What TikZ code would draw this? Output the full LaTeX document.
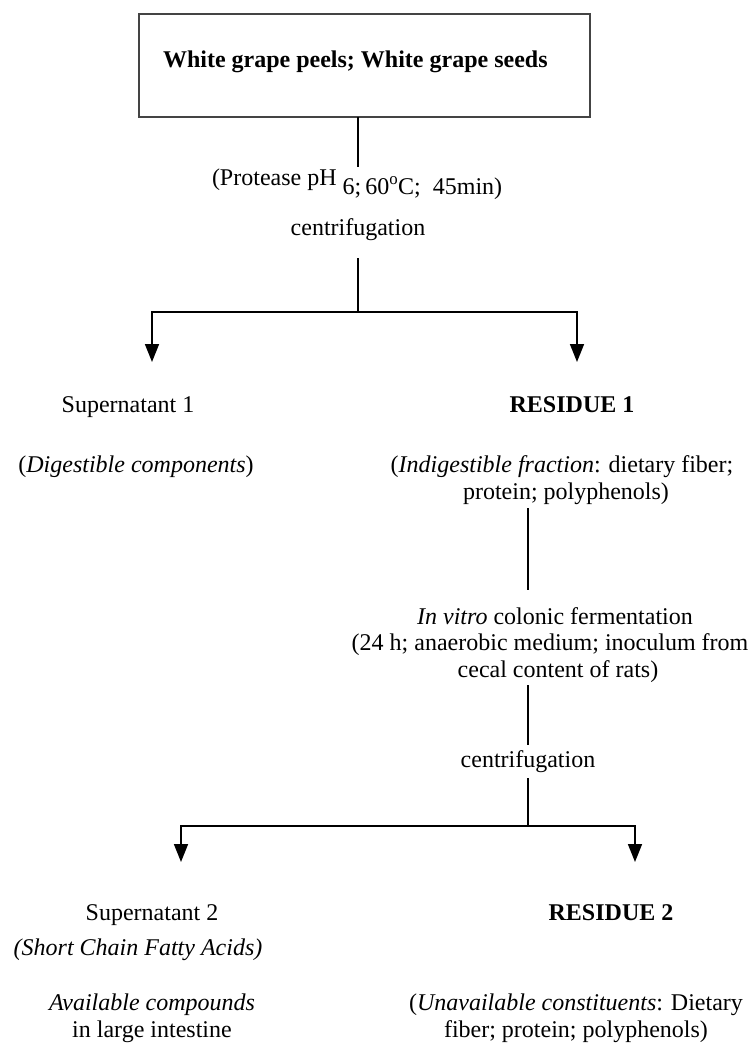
\documentclass[tikz,border=0pt]{standalone}
\usepackage{fontspec}
\setmainfont{Liberation Serif}
\usetikzlibrary{arrows.meta}
\definecolor{boxgray}{HTML}{444444}
\begin{document}
\begin{tikzpicture}[x=1pt,y=-1pt,
  every node/.style={inner sep=0pt,outer sep=0pt,font=\fontsize{24}{26.5}\selectfont},
  txt/.style={anchor=base,align=center},
  ln/.style={line width=1.6pt,black},
  arr/.style={ln,-{Triangle[width=14pt,length=18pt]}}]
\useasboundingbox (0,0) rectangle (747,1049);
% top box
\node[draw=boxgray,line width=1.8pt,minimum width=451pt,minimum height=103pt,anchor=north west] (box) at (139,14) {};
\node[anchor=base west] (title) at (163,67) {\textbf{White grape peels; White grape seeds}};
% protease
\node[anchor=base west] (prot) at (212,185) {(Protease pH \raisebox{-9pt}{6;\,60\textsuperscript{o}C;\ \ 45min)}};
\coordinate (p1) at (358,167);
\draw[ln] (box.south -| p1) -- (p1);
\node[txt] (cf1) at (358,235) {centrifugation};
\coordinate (c1a) at (358,258);
\coordinate (j1) at (358,312);
\coordinate (a1) at (152,362);
\coordinate (a2) at (577,362);
\draw[ln] (c1a) -- (j1);
\draw[arr] (j1) -| (a1);
\draw[arr] (j1) -| (a2);
\node[txt] (sup1) at (128,412) {Supernatant 1};
\node[txt] (res1) at (572,412) {\textbf{RESIDUE 1}};
\node[txt] (dig) at (136,472) {(\textit{Digestible components})};
\node[txt] (indig) at (562,499) {(\textit{Indigestible fraction}: dietary fiber;\\\hspace*{8pt}protein; polyphenols)};
\coordinate (l2a) at (528,508);
\coordinate (l2b) at (528,590);
\draw[ln] (l2a) -- (l2b);
\node[txt] (invitro) at (550,677) {\hspace*{10pt}\textit{In vitro} colonic fermentation\\(24 h; anaerobic medium; inoculum from\\\hspace*{16pt}cecal content of rats)};
\coordinate (l3a) at (528,685);
\coordinate (l3b) at (528,745);
\draw[ln] (l3a) -- (l3b);
\node[txt] (cf2) at (528,767) {centrifugation};
\coordinate (l4a) at (528,778);
\coordinate (j2) at (528,826);
\coordinate (b1) at (181,862);
\coordinate (b2) at (635,862);
\draw[ln] (l4a) -- (j2);
\draw[arr] (j2) -| (b1);
\draw[arr] (j2) -| (b2);
\node[txt] (sup2) at (152,920) {Supernatant 2};
\node[txt] (res2) at (611,920) {\textbf{RESIDUE 2}};
\node[txt] (scfa) at (138,955) {\textit{(Short Chain Fatty Acids)}};
\node[txt] (avail) at (152,1037) {\textit{Available compounds}\\in large intestine};
\node[txt] (unav) at (576,1037) {(\textit{Unavailable constituents}: Dietary\\fiber; protein; polyphenols)};
\end{tikzpicture}
\end{document}
